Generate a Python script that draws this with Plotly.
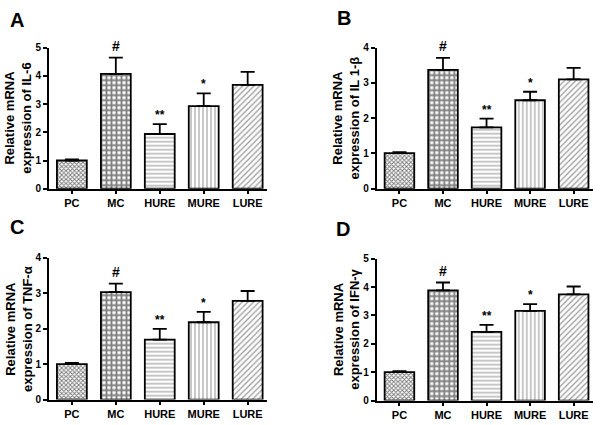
import plotly.graph_objects as go

groups = ["PC", "MC", "HURE", "MURE", "LURE"]
il6 = [1.00, 4.07, 1.94, 2.93, 3.68]
il6_err = [0.04, 0.58, 0.35, 0.45, 0.46]
il1b = [1.01, 3.37, 1.74, 2.51, 3.10]
il1b_err = [0.03, 0.34, 0.25, 0.24, 0.33]
tnfa = [1.00, 3.03, 1.69, 2.18, 2.78]
tnfa_err = [0.03, 0.24, 0.30, 0.29, 0.28]
ifng = [1.00, 3.88, 2.42, 3.16, 3.74]
ifng_err = [0.04, 0.28, 0.25, 0.24, 0.28]
sig_marks = ["", "#", "**", "*", ""]

panels = [
    ("A", il6, il6_err, "Relative mRNA<br>expression of IL-6", 5, [0.0817, 0.445], [0.5576, 0.899]),
    ("B", il1b, il1b_err, "Relative mRNA<br>expression of IL 1-β", 4, [0.628, 0.988], [0.5576, 0.899]),
    ("C", tnfa, tnfa_err, "Relative mRNA<br>expression of TNF-α", 4, [0.0817, 0.445], [0.0471, 0.3906]),
    ("D", ifng, ifng_err, "Relative mRNA<br>expression of IFN-γ", 5, [0.628, 0.988], [0.0447, 0.3882]),
]

patterns = [
    dict(shape="x", size=3, solidity=0.55, fgcolor="black", bgcolor="white"),
    dict(shape="+", size=5, solidity=0.6, fgcolor="black", bgcolor="white"),
    dict(shape="-", size=4, solidity=0.3, fgcolor="#444", bgcolor="white"),
    dict(shape="|", size=4, solidity=0.3, fgcolor="#444", bgcolor="white"),
    dict(shape="/", size=4, solidity=0.35, fgcolor="#444", bgcolor="white"),
]

FONT = "Liberation Sans, Arial, sans-serif"
fig = go.Figure()
annotations = []
letter_pos = {"A": (0.028, 0.967), "B": (0.5725, 0.972), "C": (0.029, 0.466), "D": (0.572, 0.459)}

for i, (letter, vals, errs, ytitle, ymax, xd, yd) in enumerate(panels):
    n = "" if i == 0 else str(i + 1)
    xa, ya = "x" + n, "y" + n
    for j, g in enumerate(groups):
        fig.add_trace(go.Bar(
            x=[j], y=[vals[j]], xaxis=xa, yaxis=ya, width=0.68,
            marker=dict(color="white", line=dict(color="black", width=1.8), pattern=patterns[j]),
            error_y=dict(type="data", symmetric=False, array=[errs[j]], arrayminus=[0],
                         color="black", thickness=1.8, width=7),
            showlegend=False, hoverinfo="skip"))
        if sig_marks[j]:
            top = vals[j] + errs[j]
            annotations.append(dict(
                x=j, y=top, xref=xa, yref=ya, text="<b>" + sig_marks[j] + "</b>",
                showarrow=False, yanchor="bottom", yshift=2 if sig_marks[j] == "#" else 0,
                font=dict(family=FONT, size=14 if sig_marks[j] == "#" else 12, color="black")))
    fig.update_layout(**{
        ("xaxis" + n): dict(domain=xd, anchor=ya, range=[-0.52, 4.44], tickmode="array",
                            tickvals=list(range(5)), ticktext=["<b>" + g + "</b>" for g in groups],
                            showline=True, linecolor="black", linewidth=2, ticks="outside",
                            ticklen=3, tickwidth=1.5, tickcolor="black", showgrid=False, zeroline=False,
                            tickfont=dict(family=FONT, size=11, color="black")),
        ("yaxis" + n): dict(domain=yd, anchor=xa, range=[0, ymax], dtick=1, tickmode="linear",
                            tickformat="d",
                            showline=True, linecolor="black", linewidth=2, ticks="outside",
                            ticklen=4, tickwidth=1.5, tickcolor="black", showgrid=False, zeroline=False,
                            tickfont=dict(family=FONT, size=10, color="black"),
                            tickprefix="<b>", ticksuffix="</b>"),
    })
    annotations.append(dict(
        x=xd[0] - 0.051, y=(yd[0] + yd[1]) / 2, xref="paper", yref="paper",
        text="<b>" + ytitle + "</b>", textangle=-90, showarrow=False,
        xanchor="center", yanchor="middle",
        font=dict(family=FONT, size=13, color="black")))
    lx, ly = letter_pos[letter]
    annotations.append(dict(
        x=lx, y=ly, xref="paper", yref="paper", text="<b>" + letter + "</b>",
        showarrow=False, xanchor="center", yanchor="middle",
        font=dict(family=FONT, size=20, color="black")))

fig.update_layout(width=600, height=425, margin=dict(l=0, r=0, t=0, b=0),
                  paper_bgcolor="white", plot_bgcolor="white", annotations=annotations,
                  bargap=0.3)
fig.write_html("out.html", config={"displayModeBar": False},
               post_script="document.body.style.margin='0';document.body.style.overflow='hidden';")
